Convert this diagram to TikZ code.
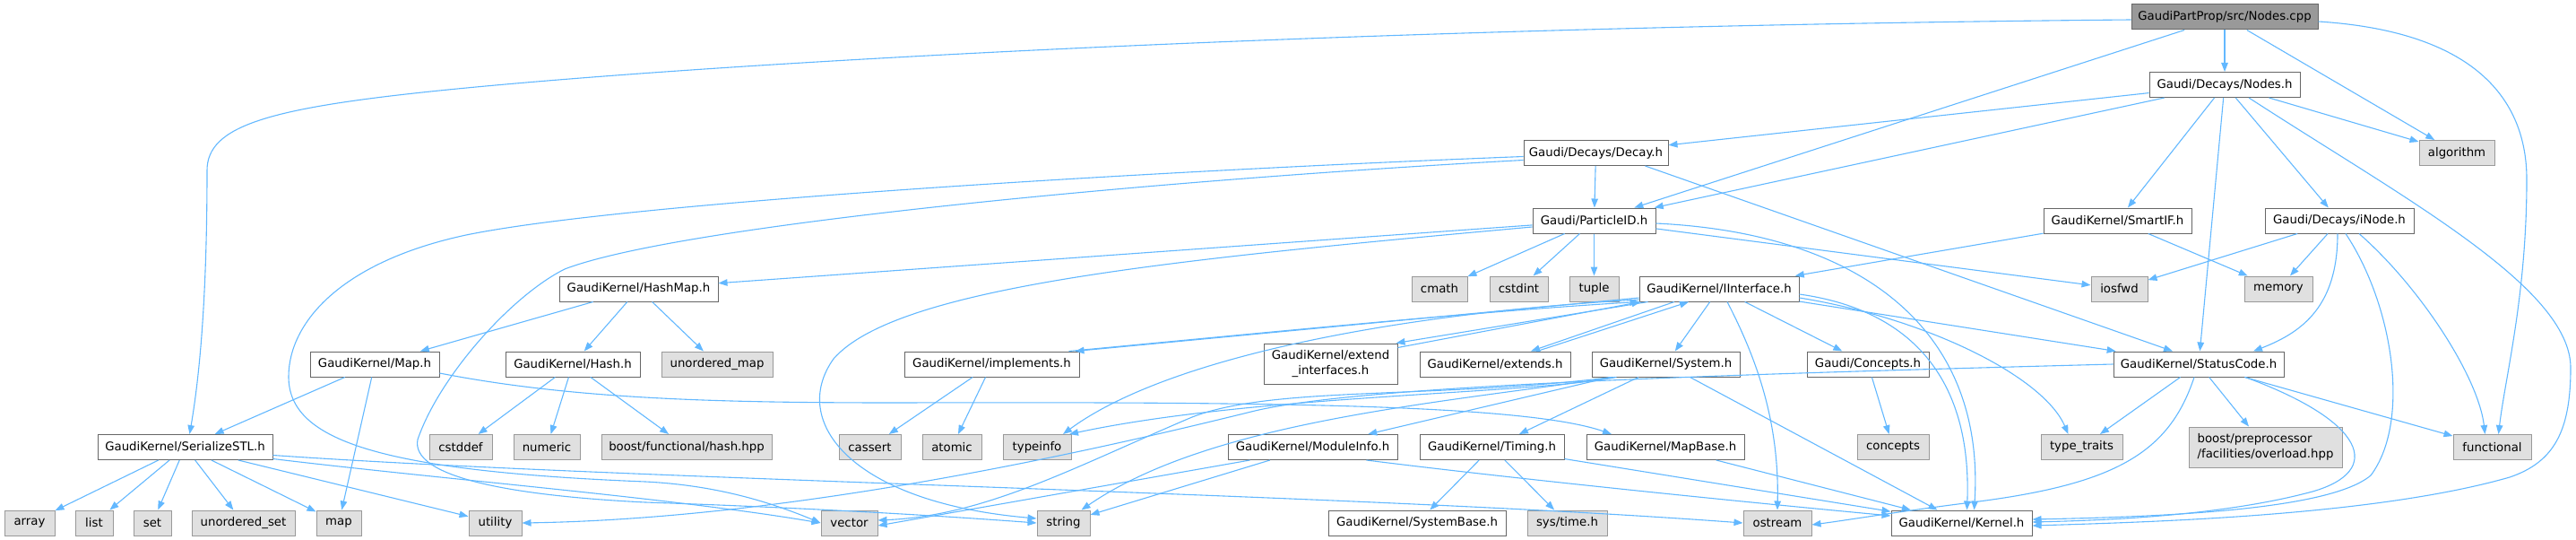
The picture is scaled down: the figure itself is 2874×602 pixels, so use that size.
\documentclass[tikz,border=0pt]{standalone}
\usepackage{fontspec}
\setmainfont{DejaVu Sans}
\usetikzlibrary{arrows.meta}
\definecolor{edgec}{HTML}{63B8FF}
\definecolor{bordA}{HTML}{666666}
\definecolor{bordB}{HTML}{999999}
\definecolor{fillS}{HTML}{E0E0E0}
\definecolor{fillR}{HTML}{999999}
\tikzset{
  nd/.style={draw=bordA, fill=white, line width=1pt, inner sep=0pt, minimum height=28pt,
     font=\fontsize{13.3pt}{17.5pt}\selectfont},
  sys/.style={nd, draw=bordB, fill=fillS},
  root/.style={nd, draw=bordA, fill=fillR},
  e/.style={draw=edgec, line width=1.1pt, -{Triangle[length=10pt,width=7.5pt]}}
}
\begin{document}
\begin{tikzpicture}[x=1pt,y=-1pt]
\useasboundingbox (0,0) rectangle (2874,602);
% row 0-3
\node[root, minimum width=208pt] (cpp) at (2482,19) {GaudiPartProp/src/Nodes.cpp};
\node[nd, minimum width=168pt] (nodesh) at (2482,94.5) {Gaudi/Decays/Nodes.h};
\node[sys, minimum width=84pt] (algorithm) at (2741,170.5) {algorithm};
\node[nd, minimum width=161pt] (decay) at (1780.5,170.5) {Gaudi/Decays/Decay.h};
\node[nd, minimum width=137pt] (pid) at (1778.5,246) {Gaudi/ParticleID.h};
\node[nd, minimum width=165pt] (smartif) at (2362.5,246) {GaudiKernel/SmartIF.h};
\node[nd, minimum width=166pt] (inode) at (2610,246) {Gaudi/Decays/iNode.h};
% row 4
\node[nd, minimum width=177pt] (hashmap) at (712.5,322) {GaudiKernel/HashMap.h};
\node[sys, minimum width=62pt] (cmath) at (1606,322) {cmath};
\node[sys, minimum width=65pt] (cstdint) at (1694.5,322) {cstdint};
\node[sys, minimum width=55pt] (tuple) at (1778.5,322) {tuple};
\node[nd, minimum width=178pt] (iinterface) at (1918,322) {GaudiKernel/IInterface.h};
\node[sys, minimum width=63pt] (iosfwd) at (2364.5,322) {iosfwd};
\node[sys, minimum width=76pt] (memory) at (2542,322) {memory};
% row 5
\node[nd, minimum width=144pt] (maph) at (418,406) {GaudiKernel/Map.h};
\node[nd, minimum width=150pt] (hash) at (639,406) {GaudiKernel/Hash.h};
\node[sys, minimum width=124pt] (umap) at (800,406) {unordered\_map};
\node[nd, minimum width=195pt] (implements) at (1106.5,406) {GaudiKernel/implements.h};
\node[nd, minimum width=149pt, minimum height=45pt, align=center] (extendif) at (1484.5,405.5) {GaudiKernel/extend\\\_interfaces.h};
\node[nd, minimum width=168pt] (extends) at (1668,406) {GaudiKernel/extends.h};
\node[nd, minimum width=165pt] (system) at (1858.5,406) {GaudiKernel/System.h};
\node[nd, minimum width=136pt] (conceptsh) at (2084,406) {Gaudi/Concepts.h};
\node[nd, minimum width=190pt] (statuscode) at (2453,406) {GaudiKernel/StatusCode.h};
% row 6
\node[nd, minimum width=195pt] (serial) at (206.5,498.5) {GaudiKernel/SerializeSTL.h};
\node[sys, minimum width=70pt] (cstddef) at (514,498.5) {cstddef};
\node[sys, minimum width=74pt] (numeric) at (610,498.5) {numeric};
\node[sys, minimum width=190pt] (boosthash) at (766,498.5) {boost/functional/hash.hpp};
\node[sys, minimum width=69pt] (cassert) at (970.5,498.5) {cassert};
\node[sys, minimum width=66pt] (atomic) at (1062,498.5) {atomic};
\node[sys, minimum width=76pt] (typeinfo) at (1157,498.5) {typeinfo};
\node[nd, minimum width=189pt] (moduleinfo) at (1464.5,498.5) {GaudiKernel/ModuleInfo.h};
\node[nd, minimum width=161pt] (timing) at (1664.5,498.5) {GaudiKernel/Timing.h};
\node[nd, minimum width=176pt] (mapbase) at (1858,498.5) {GaudiKernel/MapBase.h};
\node[sys, minimum width=80pt] (concepts) at (2112,498.5) {concepts};
\node[sys, minimum width=91pt] (typetraits) at (2322.5,498.5) {type\_traits};
\node[sys, minimum width=171pt, minimum height=45pt, align=left] (boostpp) at (2527.5,498.5) {boost/preprocessor\\/facilities/overload.hpp};
\node[sys, minimum width=87pt] (functional) at (2780.5,498.5) {functional};
% row 7
\node[sys, minimum width=56pt] (array) at (33,583) {array};
\node[sys, minimum width=42pt] (list) at (105,583) {list};
\node[sys, minimum width=42pt] (set) at (170,583) {set};
\node[sys, minimum width=115pt] (uset) at (271.5,583) {unordered\_set};
\node[sys, minimum width=50pt] (mapstd) at (378,583) {map};
\node[sys, minimum width=59pt] (utility) at (552.5,583) {utility};
\node[sys, minimum width=63pt] (vector) at (947.5,583) {vector};
\node[sys, minimum width=59pt] (string) at (1186.5,583) {string};
\node[nd, minimum width=198pt] (systembase) at (1581,583) {GaudiKernel/SystemBase.h};
\node[sys, minimum width=89pt] (systime) at (1748.5,583) {sys/time.h};
\node[sys, minimum width=76pt] (ostream) at (1983,583) {ostream};
\node[nd, minimum width=157pt] (kernel) at (2188.5,583) {GaudiKernel/Kernel.h};

% ---- edges ----
% Nodes.cpp
\draw[e] (cpp) -- (nodesh);
\draw[e] (cpp) -- (algorithm);
\draw[e] ([yshift=-5pt]cpp.east) .. controls (2760,35) and (2819,110) .. (2819,200) .. controls (2819,330) and (2795,420) .. ([xshift=7pt]functional.north);
\draw[e] (cpp) -- (pid);
\draw[e] ([yshift=-3pt]cpp.west) .. controls (1500,30) and (800,70) .. (500,100) .. controls (300,120) and (231,140) .. (231,190) .. controls (231,300) and (226,400) .. ([xshift=5pt]serial.north);
% Nodes.h
\draw[e] (nodesh) -- (decay);
\draw[e] (nodesh) -- (pid);
\draw[e] (nodesh) -- (smartif);
\draw[e] (nodesh) -- (statuscode);
\draw[e] (nodesh) -- (inode);
\draw[e] (nodesh) -- (algorithm);
\draw[e] ([xshift=27pt]nodesh.south) .. controls (2680,220) and (2868,320) .. (2868,410) .. controls (2868,480) and (2850,515) .. (2800,532) .. controls (2650,575) and (2400,582) .. ([yshift=-3pt]kernel.east);
% Decay.h
\draw[e] (decay) -- (pid);
\draw[e] ([xshift=55pt]decay.south) -- ([xshift=-29pt]statuscode.north);
\draw[e] ([yshift=-4pt]decay.west) .. controls (1300,190) and (700,225) .. (520,262) .. controls (380,292) and (322,360) .. (322,420) .. controls (322,490) and (420,525) .. (720,537) .. controls (800,541) and (860,560) .. (vector.west);
\draw[e] ([yshift=-8pt]decay.west) .. controls (1300,200) and (760,250) .. (630,300) .. controls (570,330) and (490,420) .. (466,490) .. controls (458,530) and (560,552) .. (720,560) .. controls (900,566) and (1050,575) .. (string.west);
% ParticleID.h
\draw[e] (pid) -- (hashmap);
\draw[e] ([yshift=-7pt]pid.west) .. controls (1300,290) and (1000,320) .. (930,400) .. controls (880,470) and (950,560) .. ([yshift=5pt]string.west);
\draw[e] (pid) -- (cmath);
\draw[e] (pid) -- (cstdint);
\draw[e] (pid) -- (tuple);
\draw[e] (pid) -- (iosfwd);
\draw[e] ([yshift=-3pt]pid.east) .. controls (2080,260) and (2215,370) .. ([xshift=14pt]kernel.north);
% SmartIF.h
\draw[e] (smartif) -- (iinterface);
\draw[e] (smartif) -- (memory);
% iNode.h
\draw[e] (inode) -- (iosfwd);
\draw[e] (inode) -- (memory);
\draw[e] ([xshift=-2pt]inode.south) .. controls (2608,340) and (2570,370) .. ([xshift=61pt]statuscode.north);
\draw[e] ([xshift=7pt]inode.south) .. controls (2670,340) and (2690,470) .. (2645,530) .. controls (2600,568) and (2420,576) .. ([yshift=4pt]kernel.east);
\draw[e] ([xshift=22pt]inode.south) .. controls (2700,320) and (2765,420) .. ([xshift=-8pt]functional.north);
% HashMap.h / Map.h / Hash.h
\draw[e] (hashmap) -- (maph);
\draw[e] (hashmap) -- (hash);
\draw[e] (hashmap) -- (umap);
\draw[e] (maph) -- (serial);
\draw[e] (maph) -- (mapstd);
\draw[e] ([yshift=-10pt]maph.east) .. controls (640,445) and (800,449) .. (1000,449) .. controls (1400,448) and (1700,450) .. ([xshift=-60pt]mapbase.north);
\draw[e] (hash) -- (cstddef);
\draw[e] (hash) -- (numeric);
\draw[e] (hash) -- (boosthash);
% SerializeSTL.h
\draw[e] (serial) -- (array);
\draw[e] (serial) -- (list);
\draw[e] (serial) -- (set);
\draw[e] (serial) -- (uset);
\draw[e] (serial) -- (mapstd);
\draw[e] (serial) -- (utility);
\draw[e] ([yshift=-13pt]serial.east) .. controls (500,535) and (750,555) .. (vector.west);
\draw[e] ([yshift=-9pt]serial.east) .. controls (700,535) and (1500,550) .. (ostream.west);
% IInterface.h
\draw[e] ([yshift=-10pt]iinterface.west) -- ([xshift=93pt]implements.north);
\draw[e] ([xshift=86pt]implements.north) .. controls (1400,372) and (1650,347) .. (iinterface.south west);
\draw[e] ([xshift=10pt]iinterface.south west) -- ([xshift=-2pt]extendif.north east);
\draw[e] ([yshift=-5pt]extendif.north east) -- ([xshift=2pt]iinterface.south west);
\draw[e] ([xshift=-50pt]iinterface.south) -- ([xshift=40pt]extends.north);
\draw[e] ([xshift=47pt]extends.north) -- ([xshift=-34pt]iinterface.south);
\draw[e] (iinterface) -- (system);
\draw[e] (iinterface) -- (conceptsh);
\draw[e] (iinterface) -- (statuscode);
\draw[e] ([xshift=9pt]iinterface.south) .. controls (1960,400) and (1985,470) .. (ostream.north);
\draw[e] ([yshift=-6pt]iinterface.east) .. controls (2130,345) and (2200,420) .. ([xshift=6pt]kernel.north);
\draw[e] ([yshift=-10pt]iinterface.east) .. controls (2150,355) and (2280,420) .. ([xshift=-15pt]typetraits.north);
\draw[e] ([yshift=-12pt]iinterface.west) .. controls (1550,350) and (1300,400) .. ([xshift=29pt]typeinfo.north);
% implements.h
\draw[e] (implements) -- (cassert);
\draw[e] (implements) -- (atomic);
% System.h
\draw[e] (system) -- (moduleinfo);
\draw[e] (system) -- (timing);
\draw[e] (system) -- (kernel);
\draw[e] ([xshift=-55pt]system.south) .. controls (1700,440) and (1400,440) .. ([xshift=36pt]typeinfo.north);
\draw[e] ([xshift=-60pt]system.south) .. controls (1600,445) and (1420,430) .. (1330,465) .. controls (1200,520) and (1100,575) .. ([yshift=3pt]vector.east);
\draw[e] ([xshift=-57pt]system.south) .. controls (1600,450) and (1350,470) .. ([xshift=20pt]string.north);
% ModuleInfo.h
\draw[e] ([xshift=-70pt]moduleinfo.south) -- ([yshift=-3pt]vector.east);
\draw[e] (moduleinfo) -- (string);
\draw[e] ([xshift=60pt]moduleinfo.south) .. controls (1700,535) and (1950,560) .. ([yshift=8pt]kernel.west);
% Timing.h, MapBase.h, Concepts.h
\draw[e] (timing) -- (systembase);
\draw[e] (timing) -- (systime);
\draw[e] (timing) -- (kernel);
\draw[e] (mapbase) -- (kernel);
\draw[e] (conceptsh) -- (concepts);
% StatusCode.h
\draw[e] (statuscode) -- (typetraits);
\draw[e] (statuscode) -- (boostpp);
\draw[e] (statuscode) -- (functional);
\draw[e] ([xshift=52pt]statuscode.south) .. controls (2640,470) and (2660,525) .. (2580,548) .. controls (2480,575) and (2350,580) .. ([yshift=1pt]kernel.east);
\draw[e] ([xshift=-5pt]statuscode.south) .. controls (2420,505) and (2360,540) .. (2200,560) .. controls (2120,570) and (2060,580) .. ([yshift=-2pt]ostream.east);
\draw[e] (statuscode.west) .. controls (1900,418) and (1520,430) .. (1400,458) .. controls (1250,495) and (900,578) .. (utility.east);
\end{tikzpicture}
\end{document}
